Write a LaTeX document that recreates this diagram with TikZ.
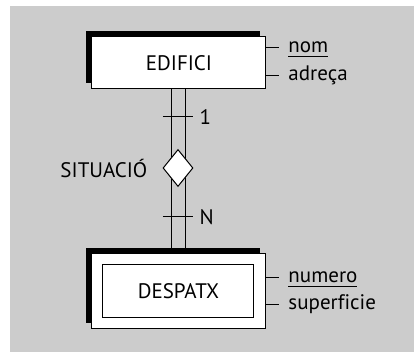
\documentclass[tikz,border=0pt]{standalone}
\usepackage{fontspec}
\setmainfont[Ligatures=NoCommon]{PT Sans}
\usepackage{xcolor}
\usetikzlibrary{shapes.geometric, shadows, positioning, calc}
\definecolor{backgray}{HTML}{CCCCCC}

\begin{document}
\begin{tikzpicture}[
  x=0.5pt, y=-0.5pt,
  font=\fontsize{10.5}{12}\selectfont,
  line width=0.5pt,
  entity/.style={rectangle, draw, fill=white, minimum width=87pt, minimum height=26pt, general shadow={fill=black, shadow xshift=-3pt, shadow yshift=3pt}},
  weakouter/.style={rectangle, draw, fill=white, minimum width=87pt, minimum height=37.5pt, general shadow={fill=black, shadow xshift=-3pt, shadow yshift=3pt}},
  weakinner/.style={rectangle, draw, minimum width=75.5pt, minimum height=26.5pt},
  relation/.style={diamond, draw, fill=white, inner sep=0pt, minimum width=15pt, minimum height=18.5pt},
  attr/.style={anchor=base west, inner xsep=4.5pt, inner ysep=0pt},
  card/.style={right, inner sep=3pt},
]

  \useasboundingbox (0,0) rectangle (414,352);
  \fill[backgray] (10,6) rectangle (414,352);

  % entities
  \node[entity] (edifici) at (179,63) {EDIFICI};
  \node[weakouter] (despatxout) at (179,291.5) {};
  \node[weakinner] (despatx) at (178.5,291.5) {DESPATX};

  % relationship
  \draw ([xshift=-3.5pt]edifici.south) -- ([xshift=-3.5pt]despatxout.north);
  \draw ([xshift=3.5pt]edifici.south) -- ([xshift=3.5pt]despatxout.north);
  \node[relation] (situacio) at (178,168) {};
  \node[left=4pt of situacio] (situaciolbl) {SITUACIÓ};

  % cardinalities
  \coordinate (tick1) at (178,117);
  \coordinate (tickN) at (178,217);
  \draw ($(tick1)+(-15,0)$) -- ($(tick1)+(15,0)$) node[card] (card1) {1};
  \draw ($(tickN)+(-15,0)$) -- ($(tickN)+(15,0)$) node[card] (cardN) {N};

  % attributes
  \node[attr] (nom) at (279,53) {\underline{nom}};
  \node[attr] (adreca) at (279,81) {adreça};
  \node[attr] (numero) at (279,283) {\underline{numero}};
  \node[attr] (superficie) at (279,310) {superficie};
  \draw (nom.mid west -| edifici.east) -- (nom.mid west);
  \draw (adreca.mid west -| edifici.east) -- (adreca.mid west);
  \draw (numero.mid west -| despatxout.east) -- (numero.mid west);
  \draw (superficie.mid west -| despatxout.east) -- (superficie.mid west);

\end{tikzpicture}
\end{document}
